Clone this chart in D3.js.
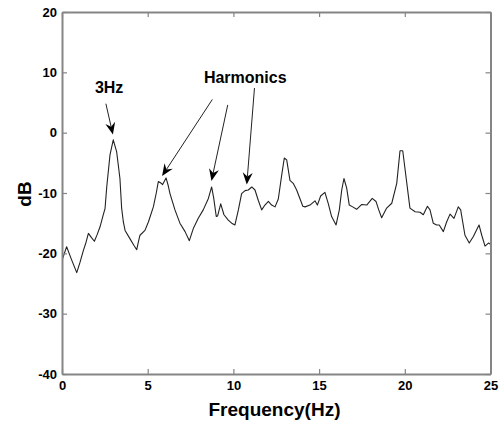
<!DOCTYPE html>
<html><head><meta charset="utf-8">
<script src="https://cdn.jsdelivr.net/npm/d3@7"></script>
<style>body{margin:0;background:#fff}svg{display:block}</style>
</head><body>
<script>
const freq = [0.0,0.27,0.55,0.86,1.05,1.24,1.40,1.54,1.72,1.89,2.05,2.22,2.41,2.51,2.61,2.80,2.99,3.19,3.38,3.48,3.58,3.68,3.97,4.20,4.36,4.45,4.55,4.84,5.04,5.33,5.50,5.62,5.75,5.87,6.07,6.20,6.30,6.59,6.88,7.18,7.43,7.66,7.95,8.24,8.54,8.73,8.85,9.00,9.08,9.26,9.45,9.70,9.90,10.09,10.29,10.48,10.68,10.87,11.07,11.26,11.45,11.65,11.84,12.04,12.23,12.43,12.62,12.82,12.97,13.11,13.30,13.49,13.69,13.89,14.05,14.18,14.47,14.76,14.90,15.09,15.34,15.54,15.73,15.99,16.18,16.32,16.45,16.61,16.76,16.96,17.19,17.49,17.78,18.10,18.32,18.48,18.65,18.94,19.24,19.53,19.72,19.88,20.07,20.30,20.60,20.89,21.08,21.32,21.47,21.66,21.86,22.01,22.25,22.44,22.64,22.87,23.12,23.26,23.51,23.76,24.00,24.33,24.49,24.68,24.88,25.0];
const dB = [-21.2,-18.9,-21.0,-23.2,-21.5,-19.6,-18.2,-16.7,-17.4,-18.0,-16.9,-15.6,-13.6,-12.6,-9.0,-3.7,-1.2,-3.2,-7.6,-12.5,-14.8,-16.2,-17.6,-18.7,-19.4,-18.2,-17.0,-16.2,-14.8,-12.3,-10.0,-8.1,-8.3,-8.6,-7.5,-8.8,-10.1,-12.8,-15.0,-16.4,-17.9,-15.9,-14.2,-12.8,-10.9,-9.0,-10.8,-13.9,-13.8,-11.8,-13.6,-14.5,-15.0,-15.3,-12.8,-10.1,-9.6,-9.5,-9.0,-9.5,-11.2,-12.8,-12.0,-11.4,-12.0,-12.3,-11.0,-7.0,-4.2,-4.5,-7.9,-8.4,-9.5,-11.0,-12.2,-12.3,-12.0,-11.3,-12.0,-10.5,-9.9,-11.8,-13.9,-15.3,-12.8,-9.5,-7.6,-9.2,-12.0,-12.3,-12.7,-11.9,-12.0,-10.9,-11.4,-12.8,-14.1,-12.5,-11.7,-8.4,-3.0,-3.0,-7.3,-12.5,-13.1,-13.2,-13.6,-12.2,-12.8,-15.0,-15.3,-15.3,-16.4,-14.8,-13.5,-14.2,-12.3,-12.8,-17.0,-18.3,-17.2,-15.3,-17.0,-18.8,-18.3,-18.5];
const xTicks = [0,5,10,15,20,25];
const yTicks = [-40,-30,-20,-10,0,10,20];
// annotations: label, arrows [fromFreq, fromDb, toFreq, toDb]
const labels = [{text:"3Hz", f:1.92, d:6.5}, {text:"Harmonics", f:8.28, d:8.3}];
const arrows = [[2.56,4.8,2.97,-0.3],[8.77,5.5,5.84,-7.2],[9.67,4.6,8.72,-8.0],[11.23,7.4,10.78,-8.6]];

const W=502,H=421;
const FONT="Arial, 'Liberation Sans', sans-serif";
const svg=d3.select("body").append("svg").attr("width",W).attr("height",H);
const x=d3.scaleLinear().domain([0,25]).range([62,490.5]);
const y=d3.scaleLinear().domain([-40,20]).range([374,12]);
const axisColor="#858585";

// curve
svg.append("defs").append("clipPath").attr("id","c").append("rect")
  .attr("x",62).attr("y",12).attr("width",428.5).attr("height",362);
const pts=freq.map((f,i)=>[f,dB[i]]);
svg.append("path").datum(pts).attr("clip-path","url(#c)")
  .attr("d",d3.line().x(d=>x(d[0])).y(d=>y(d[1])))
  .attr("fill","none").attr("stroke","#222").attr("stroke-width",1.1).attr("stroke-linejoin","round");

const fmt=d=>String(d);
function styleAxis(g){
  g.select(".domain").attr("stroke",axisColor).attr("stroke-width",2);
  g.selectAll(".tick line").attr("stroke",axisColor).attr("stroke-width",1.2);
  g.selectAll("text").attr("fill","#000").attr("font-family",FONT)
   .attr("font-weight","bold").attr("font-size",13);
}
const gb=svg.append("g").attr("transform","translate(0,374)")
  .call(d3.axisBottom(x).tickValues(xTicks).tickSizeInner(-5).tickSizeOuter(0).tickPadding(7).tickFormat(fmt));
styleAxis(gb);
const gt=svg.append("g").attr("transform","translate(0,12)")
  .call(d3.axisTop(x).tickValues(xTicks).tickSizeInner(-5).tickSizeOuter(0).tickFormat(""));
styleAxis(gt);
const gl=svg.append("g").attr("transform","translate(62,0)")
  .call(d3.axisLeft(y).tickValues(yTicks).tickSizeInner(-5).tickSizeOuter(0).tickPadding(5).tickFormat(fmt));
styleAxis(gl);
const gr=svg.append("g").attr("transform","translate(490.5,0)")
  .call(d3.axisRight(y).tickValues(yTicks).tickSizeInner(-5).tickSizeOuter(0).tickFormat(""));
styleAxis(gr);

// axis titles
svg.append("text").attr("x",274.5).attr("y",416).attr("text-anchor","middle")
  .attr("font-family",FONT).attr("font-weight","bold").attr("font-size",19)
  .text("Frequency(Hz)");
svg.append("text").attr("transform","translate(31,194) rotate(-90)").attr("text-anchor","middle")
  .attr("font-family",FONT).attr("font-weight","bold").attr("font-size",19)
  .text("dB");

// annotations
labels.forEach(l=>{
  svg.append("text").attr("x",x(l.f)).attr("y",y(l.d))
    .attr("font-family",FONT).attr("font-weight","bold").attr("font-size",16)
    .text(l.text);
});
arrows.forEach(a=>{
  const x1=x(a[0]),y1=y(a[1]),x2=x(a[2]),y2=y(a[3]);
  const ang=Math.atan2(y2-y1,x2-x1);
  const L=12,hw=5,notch=8;
  const ux=Math.cos(ang),uy=Math.sin(ang),px=-uy,py=ux;
  svg.append("line").attr("x1",x1).attr("y1",y1).attr("x2",x2-ux*notch).attr("y2",y2-uy*notch)
    .attr("stroke","#222").attr("stroke-width",1);
  const bx=x2-ux*L,by=y2-uy*L;
  const p=[[x2,y2],[bx+px*hw,by+py*hw],[x2-ux*notch,y2-uy*notch],[bx-px*hw,by-py*hw]];
  svg.append("path").attr("d","M"+p.map(q=>q.join(",")).join("L")+"Z").attr("fill","#000");
});
</script>
</body></html>
